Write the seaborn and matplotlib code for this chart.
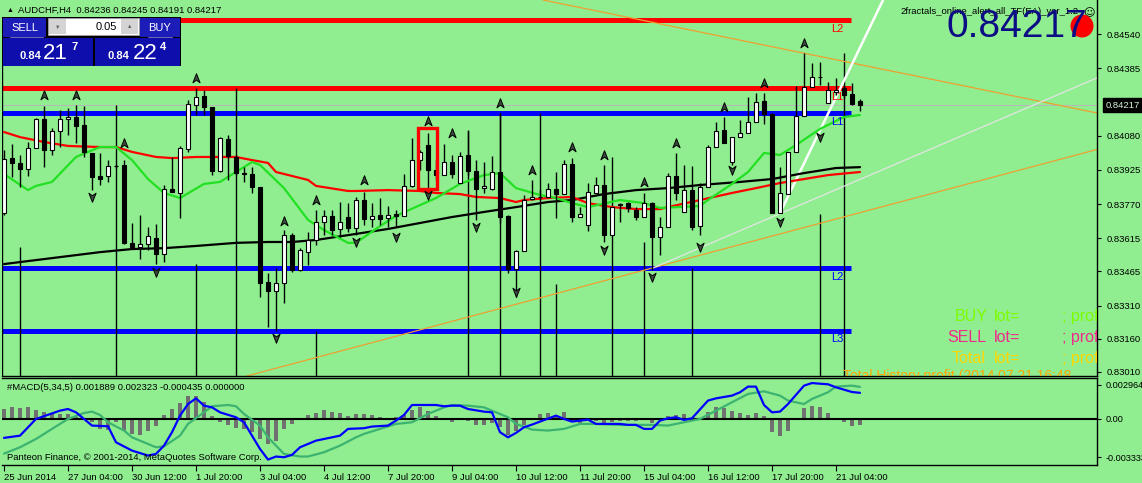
import numpy as np
import matplotlib
matplotlib.use('Agg')
import matplotlib.pyplot as plt
import matplotlib.transforms as mtransforms
from matplotlib.patches import Rectangle, Circle
from matplotlib.path import Path
import seaborn as sns

# ---------------- data ----------------
# AUDCHF H4 candles, bar 0 = 25 Jun 20:00 ... bar 107 = 21 Jul 16:00
opens = [0.83729, 0.83978, 0.83956, 0.83928, 0.84024, 0.84155, 0.84015, 0.84101, 0.84155, 0.84164,
         0.84128, 0.84001, 0.83897, 0.83897, 0.83942, 0.83947, 0.83594, 0.83575, 0.83589, 0.83616,
         0.83543, 0.83838, 0.83820, 0.84019, 0.84218, 0.84259, 0.84209, 0.83919, 0.84064, 0.83983,
         0.83910, 0.83906, 0.83847, 0.83417, 0.83376, 0.83412, 0.83629, 0.83471, 0.83552, 0.83607,
         0.83688, 0.83716, 0.83657, 0.83711, 0.83661, 0.83788, 0.83702, 0.83720, 0.83707, 0.83725,
         0.83716, 0.83852, 0.83969, 0.84037, 0.83924, 0.83901, 0.83960, 0.83865, 0.83992, 0.83919,
         0.83842, 0.83838, 0.83915, 0.83716, 0.83476, 0.83557, 0.83793, 0.83802, 0.83802, 0.83838,
         0.83815, 0.83951, 0.83711, 0.83675, 0.83820, 0.83856, 0.83629, 0.83765, 0.83774, 0.83743,
         0.83711, 0.83774, 0.83620, 0.83666, 0.83897, 0.83734, 0.83833, 0.83670, 0.83847, 0.84028,
         0.84105, 0.83960, 0.84073, 0.84092, 0.84141, 0.84236, 0.84178, 0.83729, 0.83815, 0.84006,
         0.84169, 0.84300, 0.84345, 0.84227, 0.84277, 0.84295, 0.84268, 0.84236]
highs = [0.84015, 0.84042, 0.83992, 0.84051, 0.84159, 0.84214, 0.84114, 0.84196, 0.84205, 0.84218,
         0.84214, 0.84001, 0.84001, 0.83969, 0.83951, 0.83969, 0.83684, 0.83720, 0.83666, 0.83679,
         0.83856, 0.83983, 0.84033, 0.84241, 0.84295, 0.84286, 0.84209, 0.84073, 0.84082, 0.83992,
         0.83937, 0.83937, 0.83847, 0.83457, 0.83480, 0.83652, 0.83639, 0.83570, 0.83643, 0.83743,
         0.83743, 0.83743, 0.83779, 0.83774, 0.83802, 0.83824, 0.83774, 0.83797, 0.83761, 0.83743,
         0.83906, 0.84069, 0.84015, 0.84092, 0.83969, 0.84042, 0.83992, 0.84006, 0.84101, 0.83969,
         0.83960, 0.83987, 0.84182, 0.83720, 0.83561, 0.83811, 0.83879, 0.83833, 0.83865, 0.83915,
         0.83969, 0.83978, 0.83756, 0.83865, 0.83892, 0.83947, 0.83756, 0.83774, 0.83779, 0.83756,
         0.83820, 0.83779, 0.83711, 0.83910, 0.84001, 0.83947, 0.83942, 0.83865, 0.84037, 0.84141,
         0.84164, 0.84073, 0.84150, 0.84255, 0.84273, 0.84273, 0.84182, 0.83937, 0.84006, 0.84304,
         0.84454, 0.84409, 0.84413, 0.84322, 0.84341, 0.84309, 0.84318, 0.84245]
lows = [0.83720, 0.83892, 0.83847, 0.83897, 0.84024, 0.83937, 0.83992, 0.84028, 0.84082, 0.84046,
        0.83983, 0.83833, 0.83856, 0.83870, 0.83933, 0.83589, 0.83570, 0.83521, 0.83561, 0.83498,
        0.83507, 0.83824, 0.83707, 0.84006, 0.84173, 0.84173, 0.83901, 0.83915, 0.83879, 0.83901,
        0.83870, 0.83820, 0.83349, 0.83213, 0.83195, 0.83321, 0.83462, 0.83466, 0.83494, 0.83584,
        0.83629, 0.83629, 0.83620, 0.83643, 0.83629, 0.83675, 0.83666, 0.83675, 0.83666, 0.83666,
        0.83716, 0.83847, 0.83924, 0.83842, 0.83879, 0.83901, 0.83888, 0.83865, 0.83901, 0.83698,
        0.83820, 0.83833, 0.83684, 0.83457, 0.83349, 0.83557, 0.83788, 0.83788, 0.83802, 0.83707,
        0.83815, 0.83688, 0.83711, 0.83648, 0.83820, 0.83598, 0.83629, 0.83688, 0.83734, 0.83698,
        0.83711, 0.83471, 0.83539, 0.83666, 0.83788, 0.83734, 0.83652, 0.83629, 0.83847, 0.84028,
        0.84046, 0.83947, 0.84073, 0.84092, 0.84141, 0.84132, 0.83729, 0.83729, 0.83815, 0.84006,
        0.84169, 0.84300, 0.84309, 0.84227, 0.84264, 0.84250, 0.84218, 0.84191]
closes = [0.83974, 0.83956, 0.83928, 0.84024, 0.84155, 0.84015, 0.84101, 0.84155, 0.84164, 0.84123,
          0.84006, 0.83892, 0.83883, 0.83942, 0.83940, 0.83594, 0.83575, 0.83589, 0.83625, 0.83543,
          0.83838, 0.83824, 0.84024, 0.84223, 0.84255, 0.84209, 0.83919, 0.84069, 0.83987, 0.83910,
          0.83908, 0.83847, 0.83412, 0.83376, 0.83412, 0.83629, 0.83471, 0.83561, 0.83607, 0.83688,
          0.83716, 0.83652, 0.83688, 0.83661, 0.83788, 0.83702, 0.83716, 0.83702, 0.83720, 0.83716,
          0.83852, 0.83969, 0.84006, 0.83924, 0.83901, 0.83960, 0.83906, 0.83987, 0.83919, 0.83838,
          0.83852, 0.83915, 0.83711, 0.83476, 0.83557, 0.83788, 0.83802, 0.83800, 0.83838, 0.83815,
          0.83951, 0.83711, 0.83725, 0.83824, 0.83856, 0.83629, 0.83756, 0.83770, 0.83752, 0.83711,
          0.83774, 0.83620, 0.83666, 0.83897, 0.83820, 0.83833, 0.83666, 0.83847, 0.84028, 0.84101,
          0.84046, 0.84073, 0.84092, 0.84141, 0.84232, 0.84178, 0.83729, 0.83820, 0.84006, 0.84169,
          0.84300, 0.84345, 0.84343, 0.84286, 0.84286, 0.84264, 0.84223, 0.84217]

# moving averages, sampled along the drawn curves
fast_bar = [0, 3, 4, 6, 9, 12, 14, 16, 18, 20, 22, 25, 27, 29, 31, 32, 35, 38, 40, 43, 44, 47, 49, 52,
            54, 57, 60, 62, 64, 67, 69, 71, 73, 77, 80, 82, 87, 88, 91, 93, 95, 97, 99, 102, 104, 105, 107]
fast_val = [0.83906, 0.83833, 0.83852, 0.83870, 0.83983, 0.84028, 0.84028, 0.83969, 0.83883, 0.83820,
            0.83797, 0.83861, 0.83870, 0.83915, 0.83960, 0.83947, 0.83842, 0.83698, 0.83652, 0.83594,
            0.83594, 0.83670, 0.83716, 0.83765, 0.83797, 0.83861, 0.83901, 0.83910, 0.83842, 0.83811,
            0.83797, 0.83774, 0.83756, 0.83788, 0.83774, 0.83752, 0.83761, 0.83788, 0.83861, 0.83915,
            0.84001, 0.83992, 0.84037, 0.84110, 0.84146, 0.84164, 0.84173]
mid_bar = [0, 2, 5, 8, 12, 14, 16, 19, 21, 24, 29, 31, 33, 34, 36, 38, 39, 43, 44, 48, 52, 54, 57, 59,
           62, 64, 65, 68, 71, 73, 76, 79, 82, 83, 87, 91, 94, 97, 100, 103, 107]
mid_val = [0.84096, 0.84073, 0.84051, 0.84033, 0.84028, 0.84028, 0.84006, 0.83983, 0.83978, 0.83983,
           0.83983, 0.83969, 0.83956, 0.83915, 0.83897, 0.83879, 0.83852, 0.83829, 0.83829, 0.83833,
           0.83829, 0.83820, 0.83815, 0.83802, 0.83797, 0.83779, 0.83788, 0.83797, 0.83802, 0.83774,
           0.83756, 0.83747, 0.83747, 0.83756, 0.83788, 0.83820, 0.83842, 0.83865, 0.83883, 0.83901,
           0.83915]
slow_bar = [0, 4, 8, 12, 16, 20, 24, 29, 33, 36, 39, 43, 48, 52, 56, 60, 64, 68, 71, 75, 79, 83, 87,
            92, 96, 100, 104, 107]
slow_val = [0.83498, 0.83516, 0.83534, 0.83552, 0.83566, 0.83570, 0.83580, 0.83594, 0.83598, 0.83598,
            0.83607, 0.83629, 0.83657, 0.83684, 0.83711, 0.83734, 0.83756, 0.83779, 0.83788, 0.83815,
            0.83833, 0.83842, 0.83856, 0.83870, 0.83883, 0.83910, 0.83933, 0.83937]

# fractal arrows
up_bar = [5, 9, 15, 24, 35, 39, 45, 53, 56, 62, 66, 71, 75, 80, 84, 90, 95, 100]
up_price = [0.84264, 0.84264, 0.84046, 0.84341, 0.83693, 0.83788, 0.83879, 0.84146, 0.84092, 0.84227,
            0.83924, 0.84028, 0.83992, 0.83870, 0.84046, 0.84209, 0.84318, 0.84499]
down_bar = [11, 19, 34, 44, 49, 53, 59, 64, 75, 81, 87, 91, 97, 102]
down_price = [0.83802, 0.83462, 0.83163, 0.83598, 0.83620, 0.83811, 0.83666, 0.83371, 0.83561, 0.83439,
              0.83575, 0.83924, 0.83688, 0.84073]

# vertical line objects (bar, price where they start)
vline_bar = [-0.25, 2, 14, 24, 29, 39, 58, 62, 67, 69, 76, 80, 86, 102, 105]
vline_top = [0.84612, 0.83575, 0.84218, 0.83498, 0.84295, 0.83195, 0.84105, 0.84182, 0.84182, 0.83407,
             0.83983, 0.83598, 0.83480, 0.83725, 0.84454]

# level lines
level_price = [0.84603, 0.84295, 0.84182, 0.83480, 0.83195]
level_color = ['#ff0000', '#ff0000', '#0000ff', '#0000ff', '#0000ff']
level_name = ['L2', 'L1', 'L1', 'L2', 'L3']
level_end = 105.9

# trend lines (two anchor points each)
trend_fall = [(79.7, 0.84603), (108.25, 0.84392)]
trend_rise = [(43.0, 0.83113), (108.25, 0.83743)]
ray_thin = [(81.1, 0.83480), (108.25, 0.83901)]
ray_thick = [(97.0, 0.83729), (108.25, 0.84572)]
box_bars = (51.75, 54.1)
box_prices = (0.83838, 0.84114)
bid = 0.84217

# MACD(5,34,5)
macd_hist = [0.00072, 0.00089, 0.00080, 0.00084, 0.00065, 0.00048, 0.00043, 0.00036, 0.00036, 0.00012,
             0.00005, -0.00024, -0.00072, -0.00080, -0.00024, -0.00084, -0.00108, -0.00116, -0.00084, -0.00053,
             0.00029, 0.00072, 0.00116, 0.00169, 0.00164, 0.00121, 0.00024, -0.00019, -0.00043, -0.00067,
             -0.00072, -0.00096, -0.00145, -0.00181, -0.00157, -0.00072, -0.00036, 0.00007, 0.00029, 0.00043,
             0.00067, 0.00048, 0.00043, 0.00024, 0.00036, 0.00036, 0.00029, 0.00012, 0.00007, 0.00012,
             0.00029, 0.00067, 0.00089, 0.00060, 0.00024, 0.00007, -0.00024, 0.00002, -0.00017, -0.00041,
             -0.00041, -0.00031, -0.00060, -0.00116, -0.00084, -0.00043, 0.00007, 0.00036, 0.00043, 0.00019,
             0.00053, -0.00012, -0.00029, 0.00005, -0.00012, -0.00031, -0.00024, -0.00017, -0.00012, -0.00012,
             -0.00007, -0.00031, 0.00000, 0.00024, 0.00031, 0.00036, -0.00007, 0.00007, 0.00053, 0.00089,
             0.00080, 0.00060, 0.00041, 0.00029, 0.00041, 0.00024, -0.00096, -0.00125, -0.00084, 0.00000,
             0.00077, 0.00096, 0.00089, 0.00041, 0.00010, -0.00019, -0.00048, -0.00044]
main_bar = [0, 2, 4, 7, 8, 9, 11, 13, 14, 16, 18, 19, 20, 21, 22, 23, 24, 25, 26, 27, 29, 30, 31, 32, 33,
            34, 35, 36, 37, 39, 41, 42, 43, 45, 46, 48, 49, 50, 51, 52, 54, 55, 56, 57, 58, 60, 61, 62, 63,
            64, 65, 66, 67, 69, 70, 71, 72, 73, 74, 76, 77, 78, 79, 80, 81, 82, 83, 84, 85, 86, 88, 89, 91,
            92, 93, 94, 95, 96, 97, 98, 100, 101, 102, 103, 104, 106, 107]
main_val = [-0.00137, -0.00121, 0.00000, 0.00060, 0.00072, 0.00048, -0.00048, -0.00053, -0.00169, -0.00229,
            -0.00265, -0.00253, -0.00193, -0.00096, 0.00024, 0.00108, 0.00149, 0.00096, 0.00084, 0.00048,
            0.00012, -0.00024, -0.00121, -0.00217, -0.00294, -0.00272, -0.00277, -0.00260, -0.00205, -0.00157,
            -0.00133, -0.00121, -0.00072, -0.00067, -0.00055, -0.00048, -0.00012, 0.00029, 0.00101, 0.00101,
            0.00101, 0.00092, 0.00096, 0.00096, 0.00072, 0.00053, 0.00048, -0.00096, -0.00133, -0.00101,
            -0.00060, -0.00041, -0.00019, 0.00024, 0.00000, -0.00019, -0.00012, -0.00005, -0.00036, -0.00036,
            -0.00036, -0.00043, -0.00043, -0.00072, -0.00072, -0.00012, 0.00005, 0.00012, -0.00007, 0.00005,
            0.00133, 0.00149, 0.00169, 0.00193, 0.00234, 0.00234, 0.00101, 0.00048, 0.00053, 0.00108,
            0.00241, 0.00260, 0.00255, 0.00251, 0.00229, 0.00195, 0.00189]
sig_bar = [0, 2, 4, 6, 8, 10, 11, 12, 13, 15, 16, 18, 19, 20, 22, 23, 25, 26, 28, 29, 30, 32, 33, 34, 35,
           37, 38, 40, 42, 44, 45, 47, 49, 51, 53, 55, 56, 58, 60, 61, 63, 64, 66, 68, 70, 72, 74, 77, 79,
           81, 83, 85, 87, 89, 91, 93, 95, 97, 98, 100, 101, 103, 104, 106, 107]
sig_val = [-0.00251, -0.00205, -0.00145, -0.00072, 0.00000, 0.00043, 0.00053, 0.00029, -0.00024, -0.00084,
           -0.00133, -0.00181, -0.00205, -0.00198, -0.00121, -0.00036, 0.00048, 0.00092, 0.00101, 0.00092,
           0.00036, -0.00048, -0.00133, -0.00193, -0.00253, -0.00272, -0.00272, -0.00241, -0.00193, -0.00133,
           -0.00108, -0.00072, -0.00036, -0.00024, 0.00036, 0.00084, 0.00101, 0.00096, 0.00084, 0.00060,
           0.00012, -0.00036, -0.00077, -0.00084, -0.00072, -0.00036, -0.00036, -0.00043, -0.00043, -0.00043,
           -0.00048, -0.00024, 0.00000, 0.00060, 0.00121, 0.00181, 0.00200, 0.00169, 0.00133, 0.00108,
           0.00145, 0.00193, 0.00234, 0.00241, 0.00232]

price_ticks = [0.84540, 0.84385, 0.84080, 0.83925, 0.83770, 0.83615, 0.83465, 0.83310, 0.83160, 0.83010]
time_ticks = [0, 8, 16, 24, 32, 40, 48, 56, 64, 72, 80, 88, 96, 104]
time_labels = ['25 Jun 2014', '27 Jun 04:00', '30 Jun 12:00', '1 Jul 20:00', '3 Jul 04:00',
               '4 Jul 12:00', '7 Jul 20:00', '9 Jul 04:00', '10 Jul 12:00', '11 Jul 20:00',
               '15 Jul 04:00', '16 Jul 12:00', '17 Jul 20:00', '21 Jul 04:00']

# ---------------- figure ----------------
sns.set_theme(style='white')
plt.rcParams['font.family'] = ['Liberation Sans', 'DejaVu Sans']
plt.rcParams['axes.unicode_minus'] = False

W, H = 1142, 483
BG = '#90ee90'
fig = plt.figure(figsize=(W / 100, H / 100), dpi=100, facecolor=BG)
# pixel transform (origin top-left) for screen furniture
px = mtransforms.Affine2D().scale(1 / W, -1 / H).translate(0, 1) + fig.transFigure

ax = fig.add_axes([2 / W, 1 - 376 / H, 1095 / W, 376 / H], facecolor=BG)
ax2 = fig.add_axes([2 / W, 1 - 465 / H, 1095 / W, 87 / H], facecolor=BG, sharex=ax)
XMIN, XMAX = -0.25, 136.625
YMIN, YMAX = 0.82991, 0.84694

# levels, bid line, vertical lines
ax.axhline(bid, color='#b8b8b8', lw=0.7, zorder=1)
ax.hlines(level_price, XMIN, level_end, colors=level_color, lw=3.6, zorder=2)
for p, col, name in zip(level_price, level_color, level_name):
    ax.annotate(name, xy=(103.4, p), xytext=(0, -2.5), textcoords='offset points',
                color=col, fontsize=8, va='top', ha='left', zorder=6)
ax.vlines(vline_bar, YMIN, vline_top, color='black', lw=1.0, zorder=2)

# trend lines
ax.axline(trend_fall[0], trend_fall[1], color='#eea030', lw=0.9, zorder=2)
ax.axline(trend_rise[0], trend_rise[1], color='#eea030', lw=0.9, zorder=2)
for (p0, p1), col, lw in [(ray_thin, '#e4e4e4', 0.9), (ray_thick, 'white', 1.8)]:
    slope = (p1[1] - p0[1]) / (p1[0] - p0[0])
    ax.plot([p0[0], XMAX], [p0[1], p0[1] + slope * (XMAX - p0[0])], color=col, lw=lw, zorder=3)

# moving averages
sns.lineplot(x=slow_bar, y=slow_val, ax=ax, color='black', linewidth=1.6, zorder=3)
sns.lineplot(x=mid_bar, y=mid_val, ax=ax, color='#ff0000', linewidth=1.6, zorder=3)
sns.lineplot(x=fast_bar, y=fast_val, ax=ax, color='#22e022', linewidth=1.6, zorder=3)

# candles
bars = np.arange(len(opens))
o, h, l, c = map(np.array, (opens, highs, lows, closes))
up = c >= o
lo_body = np.minimum(o, c)
hi_body = np.maximum(np.abs(c - o), 0.00002)
ax.vlines(bars, l, h, color='black', lw=1.0, zorder=4)
ax.bar(bars[up], hi_body[up], bottom=lo_body[up], width=0.62, color='white',
       edgecolor='black', linewidth=0.8, zorder=5)
ax.bar(bars[~up], hi_body[~up], bottom=lo_body[~up], width=0.62, color='black',
       edgecolor='black', linewidth=0.8, zorder=5)

# highlighted candle
ax.add_patch(Rectangle((box_bars[0], box_prices[0]), box_bars[1] - box_bars[0],
                       box_prices[1] - box_prices[0], fill=False, ec='#ff0000', lw=2.4, zorder=6))

# fractal arrows
up_arrow = Path([(0, 1), (0.75, -0.9), (0, -0.35), (-0.75, -0.9), (0, 1)],
                [Path.MOVETO, Path.LINETO, Path.LINETO, Path.LINETO, Path.CLOSEPOLY])
down_arrow = Path([(0, -1), (0.75, 0.9), (0, 0.35), (-0.75, 0.9), (0, -1)],
                  [Path.MOVETO, Path.LINETO, Path.LINETO, Path.LINETO, Path.CLOSEPOLY])
ax.scatter(up_bar, up_price, marker=up_arrow, s=48, c='#3c4c3c', edgecolors='black', linewidths=0.7, zorder=6)
ax.scatter(down_bar, down_price, marker=down_arrow, s=48, c='#3c4c3c', edgecolors='black', linewidths=0.7, zorder=6)

ax.set_xlim(XMIN, XMAX)
ax.set_ylim(YMIN, YMAX)
ax.yaxis.tick_right()
ax.set_yticks(price_ticks)
ax.set_yticklabels([f'{v:.5f}' for v in price_ticks])
ax.tick_params(axis='y', direction='out', length=3, width=0.8, pad=4, labelsize=6.8,
               colors='black', right=True, left=False)
ax.tick_params(axis='x', bottom=False, labelbottom=False)
ax.set_xlabel('')
ax.set_ylabel('')
for side in ['top', 'left']:
    ax.spines[side].set_visible(False)
for side in ['right', 'bottom']:
    ax.spines[side].set_color('black')
    ax.spines[side].set_linewidth(1.0)
ax.annotate(f'{bid:.5f}', xy=(1, bid), xycoords=ax.get_yaxis_transform(), xytext=(6, 0),
            textcoords='offset points', va='center', ha='left', fontsize=6.8, color='#d8f4d8',
            bbox=dict(boxstyle='square,pad=0.25', fc='black', ec='black'), annotation_clip=False)

# trade info texts (clipped by the chart area)
for label, col, base, x0 in [('BUY', '#7cfc00', 321, 955), ('SELL', '#f0288c', 342, 947),
                             ('Total', '#ffd700', 363, 952)]:
    for s, xx in [(label, x0), ('lot=', 994), ('; prof', 1062)]:
        ax.text(xx, base, s, transform=px, color=col, fontsize=11.5, va='baseline', ha='left',
                clip_on=True, zorder=7)
ax.text(843, 380, 'Total History profit (2014.07.21 16:48', transform=px, color='#ffa500',
        fontsize=10, va='baseline', ha='left', clip_on=True, zorder=7)

# ---------------- MACD panel ----------------
ax2.bar(bars, macd_hist, width=0.38, color='#707070', edgecolor='none', linewidth=0, zorder=2)
ax2.axhline(0, color='black', lw=1.5, zorder=3)
sns.lineplot(x=sig_bar, y=sig_val, ax=ax2, color='#3cb371', linewidth=1.6, zorder=4)
sns.lineplot(x=main_bar, y=main_val, ax=ax2, color='#0000ff', linewidth=1.6, zorder=5)
ax2.set_xlim(XMIN, XMAX)
ax2.set_ylim(-0.003333, 0.002964)
ax2.yaxis.tick_right()
ax2.set_yticks([0.00246, 0.0, -0.00276])
ax2.set_yticklabels(['0.002964', '0.00', '-0.003333'])
ax2.tick_params(axis='y', direction='out', length=3, width=0.8, pad=3, labelsize=6.6,
                colors='black', right=True, left=False)
ax2.set_xticks(time_ticks)
ax2.set_xticklabels(time_labels, ha='left')
ax2.tick_params(axis='x', direction='out', length=4, width=0.8, pad=1.5, labelsize=6.8,
                colors='black', bottom=True)
ax2.set_xlabel('')
ax2.set_ylabel('')
ax2.spines['left'].set_visible(False)
for side in ['top', 'right', 'bottom']:
    ax2.spines[side].set_color('black')
    ax2.spines[side].set_linewidth(1.0)
ax2.text(7, 387, '#MACD(5,34,5) 0.001889 0.002323 -0.000435 0.000000', transform=px,
         fontsize=6.8, va='center', ha='left', color='black')
ax2.text(7, 457, 'Panteon Finance, \u00a9 2001-2014, MetaQuotes Software Corp.', transform=px,
         fontsize=6.8, va='center', ha='left', color='black', zorder=6)

# ---------------- screen furniture ----------------
fig.text(7, 10, '\u25b2', transform=px, fontsize=5, va='center', ha='left', color='black')
fig.text(18, 10, 'AUDCHF,H4  0.84236 0.84245 0.84191 0.84217', transform=px,
         fontsize=6.8, va='center', ha='left', color='black')


def pbox(x0, y0, x1, y1, fc, ec='none', lw=0.0, z=5):
    fig.add_artist(Rectangle((x0, y0), x1 - x0, y1 - y0, transform=px, fc=fc, ec=ec, lw=lw, zorder=z))


pbox(2, 17, 181, 66, '#000000', z=5)
pbox(3, 18, 46, 37, '#1c1cb8', z=6)
pbox(140, 18, 180, 37, '#1c1cb8', z=6)
pbox(48, 18, 139, 35, '#ffffff', ec='#a0a0a0', lw=0.6, z=6)
pbox(49, 19, 66, 34, '#d4d4d4', z=7)
pbox(121, 19, 138, 34, '#d4d4d4', z=7)
pbox(3, 38, 93, 66, '#0e0eac', z=6)
pbox(95, 38, 180, 66, '#0e0eac', z=6)
fig.add_artist(plt.Line2D([10, 43], [37, 37], transform=px, color='#8080d0', lw=0.6, zorder=7))
fig.add_artist(plt.Line2D([148, 172], [37, 37], transform=px, color='#8080d0', lw=0.6, zorder=7))
fig.text(25, 28, 'SELL', transform=px, fontsize=8, color='white', ha='center', va='center', zorder=8)
fig.text(160, 28, 'BUY', transform=px, fontsize=8, color='white', ha='center', va='center', zorder=8)
fig.text(57.5, 27, '\u25bc', transform=px, fontsize=4, color='#606060', ha='center', va='center', zorder=8)
fig.text(129.5, 26, '\u25b2', transform=px, fontsize=4, color='#606060', ha='center', va='center', zorder=8)
fig.text(117, 27, '0.05', transform=px, fontsize=8, color='black', ha='right', va='center', zorder=8)
for x_small, x_big, x_sup, big, sup in [(19, 43, 71, '21', '7'), (107, 133, 160, '22', '4')]:
    fig.text(x_small, 59, '0.84', transform=px, fontsize=8, fontweight='bold', color='white',
             ha='left', va='baseline', zorder=8)
    fig.text(x_big, 59, big, transform=px, fontsize=16, color='white', ha='left', va='baseline', zorder=8)
    fig.text(x_sup, 50, sup, transform=px, fontsize=8, fontweight='bold', color='white',
             ha='left', va='baseline', zorder=8)

fig.text(900, 12, '2fractals_online_alert_all_TF(EA)_ver_1.2', transform=px, fontsize=6.8,
         color='black', ha='left', va='center', zorder=4)
fig.text(1089, 13, '\u263a', transform=px, fontsize=8, color='black', ha='center', va='center',
         family=['DejaVu Sans'], zorder=4)
fig.add_artist(Circle((1082, 26), 11.5, transform=px, fc='#ff0000', ec='none', zorder=5))
fig.text(946, 37, f'{bid:.5f}', transform=px, fontsize=28, color='#0c0c84', ha='left',
         va='baseline', zorder=6)

fig.savefig('out.png', dpi=100, facecolor=BG)
